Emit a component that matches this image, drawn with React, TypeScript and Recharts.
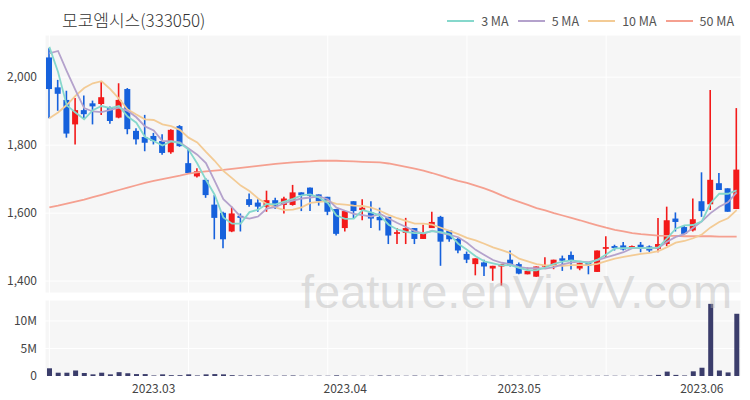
import React from 'react';
import { ComposedChart, Bar, Line, XAxis, YAxis, CartesianGrid } from 'recharts';

const dates = [
  '2023-02-13', '2023-02-14', '2023-02-15', '2023-02-16', '2023-02-17', '2023-02-20', '2023-02-21', '2023-02-22',
  '2023-02-23', '2023-02-24', '2023-02-27', '2023-02-28',
  '2023-03-02', '2023-03-03', '2023-03-06', '2023-03-07', '2023-03-08', '2023-03-09', '2023-03-10', '2023-03-13',
  '2023-03-14', '2023-03-15', '2023-03-16', '2023-03-17', '2023-03-20', '2023-03-21', '2023-03-22', '2023-03-23',
  '2023-03-24', '2023-03-27', '2023-03-28', '2023-03-29', '2023-03-30', '2023-03-31',
  '2023-04-03', '2023-04-04', '2023-04-05', '2023-04-06', '2023-04-07', '2023-04-10', '2023-04-11', '2023-04-12',
  '2023-04-13', '2023-04-14', '2023-04-17', '2023-04-18', '2023-04-19', '2023-04-20', '2023-04-21', '2023-04-24',
  '2023-04-25', '2023-04-26', '2023-04-27', '2023-04-28',
  '2023-05-02', '2023-05-03', '2023-05-04', '2023-05-08', '2023-05-09', '2023-05-10', '2023-05-11', '2023-05-12',
  '2023-05-15', '2023-05-16', '2023-05-17', '2023-05-18', '2023-05-19', '2023-05-22', '2023-05-23', '2023-05-24',
  '2023-05-25', '2023-05-26', '2023-05-29', '2023-05-30', '2023-05-31',
  '2023-06-01', '2023-06-02', '2023-06-05', '2023-06-07', '2023-06-08',
];

const opens = [
  2058, 1970, 1933, 1861, 1903, 1923, 1921, 1911, 1881, 1965, 1842, 1824, 1827, 1812, 1779, 1856,
  1747, 1708, 1698, 1625, 1601, 1546, 1592, 1641, 1631, 1619, 1638, 1624, 1624, 1661, 1675, 1655,
  1648, 1612, 1556, 1635, 1609, 1602, 1589, 1589, 1539, 1542, 1556, 1524, 1556, 1589, 1549, 1524,
  1480, 1450, 1455, 1437, 1443, 1463, 1450, 1420, 1413, 1443, 1445, 1467, 1477, 1437, 1453, 1427,
  1495, 1503, 1505, 1498, 1507, 1502, 1495, 1509, 1584, 1559, 1549, 1635, 1626, 1688, 1673, 1612,
];
const highs = [
  2085, 1992, 1960, 1939, 1946, 1931, 1987, 1914, 1982, 1968, 1850, 1889, 1836, 1832, 1847, 1859,
  1790, 1732, 1703, 1653, 1604, 1619, 1599, 1658, 1641, 1666, 1645, 1648, 1683, 1661, 1675, 1655,
  1648, 1612, 1606, 1635, 1641, 1635, 1616, 1589, 1556, 1586, 1556, 1566, 1604, 1592, 1549, 1527,
  1487, 1467, 1463, 1445, 1450, 1490, 1455, 1440, 1443, 1470, 1463, 1475, 1487, 1455, 1453, 1490,
  1532, 1507, 1515, 1505, 1515, 1505, 1586, 1619, 1602, 1562, 1643, 1720, 1962, 1718, 1673, 1909,
];
const lows = [
  1879, 1901, 1822, 1802, 1879, 1861, 1889, 1863, 1879, 1832, 1802, 1782, 1802, 1772, 1775, 1795,
  1718, 1705, 1645, 1523, 1497, 1544, 1546, 1619, 1604, 1604, 1612, 1599, 1622, 1606, 1606, 1622,
  1594, 1534, 1546, 1584, 1579, 1556, 1549, 1509, 1509, 1509, 1509, 1524, 1556, 1445, 1516, 1482,
  1453, 1417, 1415, 1401, 1387, 1443, 1420, 1420, 1413, 1440, 1435, 1430, 1434, 1432, 1420, 1427,
  1470, 1490, 1490, 1495, 1485, 1485, 1485, 1503, 1546, 1539, 1546, 1589, 1609, 1668, 1604, 1612,
];
const closes = [
  1965, 1951, 1834, 1903, 1891, 1914, 1941, 1871, 1933, 1847, 1817, 1807, 1812, 1777, 1845, 1797,
  1718, 1723, 1653, 1586, 1523, 1599, 1586, 1624, 1619, 1638, 1622, 1643, 1661, 1653, 1651, 1635,
  1604, 1539, 1606, 1606, 1616, 1584, 1579, 1534, 1544, 1556, 1524, 1542, 1574, 1516, 1523, 1490,
  1463, 1467, 1443, 1445, 1450, 1445, 1422, 1430, 1443, 1447, 1463, 1460, 1460, 1453, 1445, 1490,
  1500, 1497, 1493, 1503, 1497, 1490, 1509, 1579, 1574, 1539, 1582, 1606, 1698, 1668, 1604, 1728,
];
// volume in millions of shares
const volumes = [
  1.4, 0.6, 0.6, 1.0, 0.55, 0.3, 0.6, 0.3, 0.7, 0.5, 0.35, 0.35, 0.1, 0.3, 0.15, 0.15,
  0.3, 0.1, 0.3, 0.35, 0.3, 0.15, 0.1, 0.12, 0.08, 0.1, 0.06, 0.08, 0.1, 0.06, 0.05, 0.06,
  0.05, 0.12, 0.06, 0.05, 0.05, 0.04, 0.1, 0.08, 0.06, 0.05, 0.08, 0.05, 0.06, 0.1, 0.05, 0.05,
  0.06, 0.05, 0.04, 0.05, 0.06, 0.05, 0.04, 0.04, 0.05, 0.04, 0.04, 0.04, 0.05, 0.04, 0.05, 0.05,
  0.06, 0.05, 0.05, 0.04, 0.08, 0.1, 0.2, 0.8, 0.2, 0.1, 0.85, 1.5, 13.1, 1.0, 0.65, 11.3,
];

// first values of the averages, which depend on days before the chart starts
const ma3Head = [2089, 2015];
const ma5Head = [2070, 2077, 2018, 1962];
const ma10Head = [1879, 1896, 1918, 1945, 1968, 1982, 1988, 1965, 1937];
const ma50 = [
  1617, 1622, 1628, 1634, 1640, 1647, 1654, 1661, 1668, 1675, 1682, 1689, 1695, 1700, 1705, 1710,
  1716, 1720, 1723, 1725, 1727, 1730, 1733, 1736, 1739, 1742, 1745, 1747, 1749, 1751, 1752, 1754,
  1754, 1754, 1753, 1752, 1751, 1750, 1749, 1746, 1741, 1736, 1731, 1725, 1718, 1710, 1702, 1695,
  1689, 1681, 1673, 1663, 1652, 1642, 1633, 1624, 1615, 1608, 1600, 1593, 1586, 1579, 1571, 1564,
  1557, 1551, 1546, 1541, 1538, 1536, 1534, 1533, 1533, 1532, 1532, 1532, 1532, 1531, 1531, 1531,
];

const monthTicks = ['2023-03-02', '2023-04-03', '2023-05-02', '2023-06-01'];

const RED = '#f31a1a';
const BLUE = '#1661dc';

function movingAvg(n: number, head: number[]) {
  return closes.map((_, i) => {
    if (i < head.length) return head[i];
    const part = closes.slice(i - n + 1, i + 1);
    return Math.round(part.reduce((s, v) => s + v, 0) / n);
  });
}

const ma3 = movingAvg(3, ma3Head);
const ma5 = movingAvg(5, ma5Head);
const ma10 = movingAvg(10, ma10Head);

const data = dates.map((date, i) => ({
  date,
  open: opens[i],
  high: highs[i],
  low: lows[i],
  close: closes[i],
  range: [lows[i], highs[i]],
  volume: volumes[i] * 1e6,
  ma3: ma3[i],
  ma5: ma5[i],
  ma10: ma10[i],
  ma50: ma50[i],
}));

const gridTicks = dates.filter((_, i) => i % 16 === 0);

const Candle = (props: any) => {
  const { x, y, width, height, payload } = props;
  const { open, close, high, low } = payload;
  const color = close >= open ? RED : BLUE;
  const span = high - low || 1;
  const py = (v: number) => y + ((high - v) / span) * height;
  const top = py(Math.max(open, close));
  const bottom = py(Math.min(open, close));
  const cx = x + width / 2;
  return (
    <g>
      <line x1={cx} x2={cx} y1={y} y2={y + height} stroke={color} strokeWidth={1.6} />
      <rect x={x} y={top} width={width} height={Math.max(1.5, bottom - top)} fill={color} />
    </g>
  );
};

const legendItems = [
  { label: '3 MA', color: '#86d8cc' },
  { label: '5 MA', color: '#b4a2cc' },
  { label: '10 MA', color: '#f3cb95' },
  { label: '50 MA', color: '#f5a090' },
];

const font = '"Noto Sans CJK KR", "Noto Sans", sans-serif';
const tickStyle = { fontSize: 12, fill: '#444', fontFamily: font };

export default function App() {
  return (
    <div style={{ position: 'absolute', left: 0, top: 0, width: 750, height: 400, background: '#fff', fontFamily: font }}>
      <div style={{ position: 'absolute', left: 62, top: 7, fontSize: 17, color: '#333', fontWeight: 300 }}>모코엠시스(333050)</div>
      <div style={{ position: 'absolute', right: 16, top: 11, display: 'flex', fontSize: 12.5, color: '#555' }}>
        {legendItems.map((it) => (
          <div key={it.label} style={{ display: 'flex', alignItems: 'center', marginLeft: 9 }}>
            <span style={{ display: 'inline-block', width: 27, height: 2, background: it.color, marginRight: 7 }} />
            {it.label}
          </div>
        ))}
      </div>

      <div style={{ position: 'absolute', left: 0, top: 0 }}>
        <ComposedChart width={750} height={295} data={data} margin={{ top: 35, right: 9, bottom: 2, left: 0 }}>
          <CartesianGrid fill="#f6f6f6" stroke="#ffffff" strokeWidth={1} />
          <XAxis dataKey="date" hide ticks={gridTicks} interval={0} />
          <YAxis
            domain={[1365, 2124]}
            ticks={[1400, 1600, 1800, 2000]}
            width={45}
            axisLine={false}
            tickLine={false}
            tick={tickStyle}
            tickFormatter={(v: number) => v.toLocaleString('en-US')}
          />
          <Line dataKey="ma50" stroke="#f5a090" strokeWidth={1.8} dot={false} isAnimationActive={false} />
          <Line dataKey="ma10" stroke="#f3cb95" strokeWidth={1.8} dot={false} isAnimationActive={false} />
          <Line dataKey="ma5" stroke="#b4a2cc" strokeWidth={1.8} dot={false} isAnimationActive={false} />
          <Line dataKey="ma3" stroke="#86d8cc" strokeWidth={1.8} dot={false} isAnimationActive={false} />
          <Bar dataKey="range" barSize={6} shape={Candle} isAnimationActive={false} />
        </ComposedChart>
      </div>

      <div style={{ position: 'absolute', left: 0, top: 295 }}>
        <ComposedChart width={750} height={105} data={data} margin={{ top: 5, right: 9, bottom: 0, left: 0 }}>
          <CartesianGrid fill="#f6f6f6" stroke="#ffffff" xAxisId="grid" />
          <XAxis xAxisId="grid" dataKey="date" hide ticks={gridTicks} interval={0} />
          <XAxis
            dataKey="date"
            ticks={monthTicks}
            interval={0}
            height={24}
            axisLine={false}
            tickLine={false}
            tick={tickStyle}
            tickFormatter={(d: string) => d.slice(0, 7).replace('-', '.')}
          />
          <YAxis
            domain={[0, 13.8e6]}
            ticks={[0, 5e6, 10e6]}
            width={45}
            axisLine={false}
            tickLine={false}
            tick={tickStyle}
            tickFormatter={(v: number) => (v === 0 ? '0' : `${v / 1e6}M`)}
          />
          <Bar dataKey="volume" barSize={5} fill="#3b3d6b" isAnimationActive={false} />
        </ComposedChart>
      </div>

      <div
        style={{
          position: 'absolute',
          left: 301,
          top: 264,
          fontSize: 47,
          fontFamily: '"Liberation Sans", Arial, sans-serif',
          color: 'rgba(180,180,180,0.42)',
          pointerEvents: 'none',
          whiteSpace: 'nowrap',
        }}
      >
        feature.enVievV.com
      </div>
    </div>
  );
}
